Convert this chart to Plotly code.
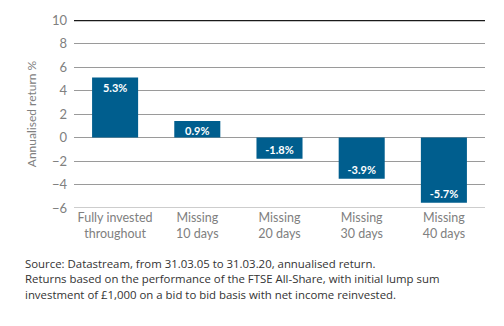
import plotly.graph_objects as go

categories = ["Fully invested<br>throughout", "Missing<br>10 days", "Missing<br>20 days",
              "Missing<br>30 days", "Missing<br>40 days"]
# bar heights as drawn in the picture
bar_heights = [5.1, 1.4, -1.8, -3.5, -5.55]
# printed value labels
labels = ["5.3%", "0.9%", "-1.8%", "-3.9%", "-5.7%"]
tick_vals = [-6, -4, -2, 0, 2, 4, 6, 8, 10]
footnote_lines = [
    "Source: Datastream, from 31.03.05 to 31.03.20, annualised return.",
    "Returns based on the performance of the FTSE All-Share, with initial lump sum",
    "investment of £1,000 on a bid to bid basis with net income reinvested.",
]

BAR = "#005E8E"
GRAY = "#808080"
GRID = "#9a9a9a"
FONT = "Lato, Open Sans, sans-serif"
NOTE_FONT = "Open Sans, sans-serif"

fig = go.Figure(go.Bar(
    x=categories, y=bar_heights, text=labels,
    textposition="inside", insidetextanchor="end", constraintext="none",
    textfont=dict(color="white", size=11, family=FONT, weight="bold"),
    marker=dict(color=BAR, line=dict(width=0)),
    cliponaxis=False,
))

annotations = []
for i, line in enumerate(footnote_lines):
    annotations.append(dict(text=line, xref="paper", yref="paper", x=-0.124,
                            y=-0.297 - i * 0.0805, xanchor="left", yanchor="middle",
                            align="left", showarrow=False,
                            font=dict(size=11.4, color="#333333", family=NOTE_FONT)))

fig.update_layout(
    width=504, height=326,
    margin=dict(l=74, r=19, t=16, b=118),
    paper_bgcolor="white", plot_bgcolor="white",
    bargap=0.44,
    showlegend=False,
    font=dict(family=FONT, color=GRAY),
    xaxis=dict(tickfont=dict(size=12.5, color=GRAY, family=FONT), showgrid=False,
               showline=False, ticks=""),
    yaxis=dict(range=[-6, 10], tickvals=tick_vals, showgrid=True, gridcolor=GRID,
               gridwidth=1, zeroline=True, zerolinecolor=GRID, zerolinewidth=1,
               tickfont=dict(size=13, color=GRAY, family=FONT), ticks="",
               ticklabelstandoff=6,
               title=dict(text="Annualised return %", font=dict(size=12, color=GRAY, family=FONT),
                          standoff=12)),
    shapes=[dict(type="line", xref="paper", yref="y", x0=0, x1=1, y0=10, y1=10,
                 line=dict(color="#1a1a1a", width=2.5)),
            dict(type="line", xref="paper", yref="y", x0=0, x1=1, y0=-6, y1=-6,
                 line=dict(color=GRID, width=1))],
    annotations=annotations,
)

fig.write_html("out.html")
